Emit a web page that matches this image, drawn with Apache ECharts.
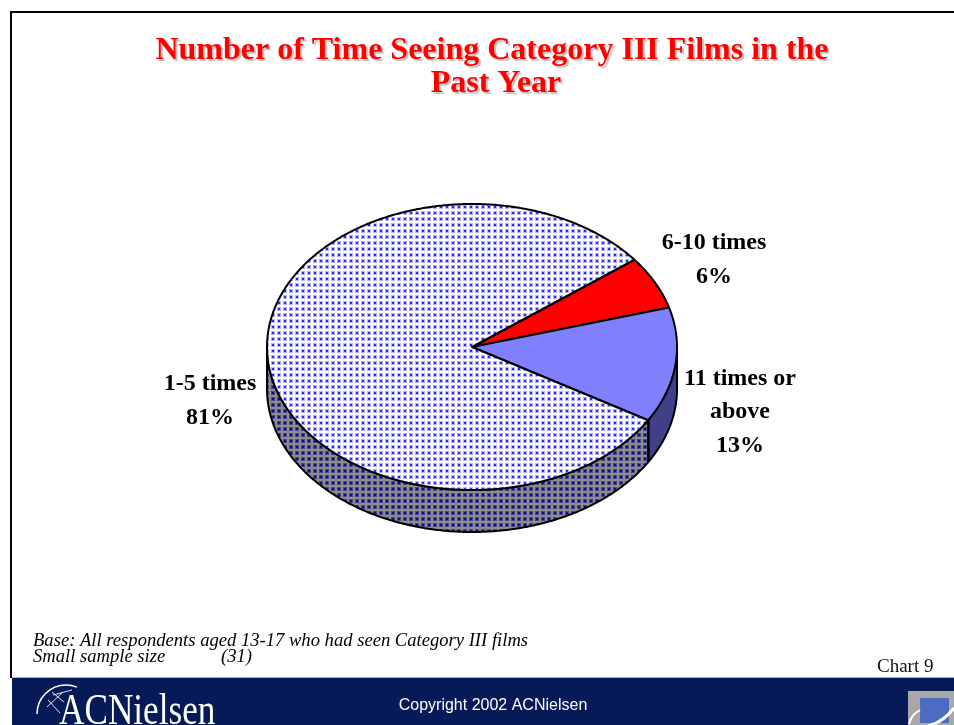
<!DOCTYPE html>
<html>
<head>
<meta charset="utf-8">
<title>Chart 9</title>
<script src="https://cdn.jsdelivr.net/npm/echarts@6/dist/echarts.min.js"></script>
<style>
  html, body { margin: 0; padding: 0; background: #fff; }
  #main { width: 954px; height: 725px; }
</style>
</head>
<body>
<div id="main"></div>
<script>
// data
var categories = ['6-10 times', '11 times or\nabove', '1-5 times'];
var shares = [6, 13, 81];
var titleText = 'Number of Time Seeing Category III Films in the \nPast Year';
var noteLines = ['Base: All respondents aged 13-17 who had seen Category III films', 'Small sample size            (31)'];

// tilted pie geometry
var cx = 472, cy = 347, rx = 205, ry = 143, depth = 42;
var startDeg = 37.6; // first slice starts here, runs clockwise
var labelPos = [[714, 260], [740, 412], [210, 401]];

var serif = '"Liberation Serif", "Times New Roman", serif';
var sans = '"Liberation Sans", Arial, sans-serif';

function dotPattern(bg, dot, halo) {
  var c = document.createElement('canvas');
  c.width = 6; c.height = 6;
  var g = c.getContext('2d');
  g.fillStyle = bg; g.fillRect(0, 0, 6, 6);
  g.fillStyle = halo; g.fillRect(1, 1, 4, 4);
  g.fillStyle = dot; g.fillRect(2, 2, 2, 2);
  return { image: c, repeat: 'repeat' };
}
var topDots = dotPattern('#ffffff', '#2a2af0', '#b4b4fc');
var sideDots = dotPattern('#8c8c8c', '#101080', '#46468c');

var topFill = ['#ff0000', '#8080ff', topDots];
var sideFill = ['#800000', '#40408a', sideDots];

var total = shares.reduce(function (a, b) { return a + b; }, 0);

function sliceRange(i) {
  var before = 0;
  for (var k = 0; k < i; k++) before += shares[k];
  var a0 = startDeg - before / total * 360;
  var a1 = a0 - shares[i] / total * 360;
  return [a0, a1];
}
function rimPoint(deg, dy) {
  var r = deg * Math.PI / 180;
  return [cx + rx * Math.cos(r), cy - ry * Math.sin(r) + (dy || 0)];
}

function renderSide(params, api) {
  var i = params.dataIndex;
  var range = sliceRange(i);
  // only the part of the rim facing the viewer (sin < 0) has a wall
  var pts = [], arc = [];
  for (var d = range[0]; d >= range[1] - 0.001; d -= 0.5) {
    if (Math.sin(d * Math.PI / 180) <= 0) arc.push(d);
  }
  if (!arc.length) return null;
  arc.forEach(function (d) { pts.push(rimPoint(d, 0)); });
  arc.slice().reverse().forEach(function (d) { pts.push(rimPoint(d, depth)); });
  return {
    type: 'polygon',
    shape: { points: pts },
    style: { fill: sideFill[i], stroke: '#000', lineWidth: 2, lineJoin: 'round' }
  };
}

function renderTop(params, api) {
  var i = params.dataIndex;
  var range = sliceRange(i);
  var pts = [[cx, cy]];
  for (var d = range[0]; d > range[1]; d -= 0.5) pts.push(rimPoint(d, 0));
  pts.push(rimPoint(range[1], 0));
  return {
    type: 'group',
    children: [{
      type: 'polygon',
      shape: { points: pts },
      style: { fill: topFill[i], stroke: '#000', lineWidth: 2, lineJoin: 'round' }
    }, {
      type: 'text',
      style: {
        text: categories[i] + '\n' + api.value(0) + '%',
        x: labelPos[i][0],
        y: labelPos[i][1],
        align: 'center',
        verticalAlign: 'middle',
        font: 'bold 24px ' + serif,
        lineHeight: 33.5,
        fill: '#000'
      }
    }]
  };
}

var chart = echarts.init(document.getElementById('main'), null, { renderer: 'canvas' });
chart.setOption({
  backgroundColor: '#ffffff',
  animation: false,
  title: {
    text: titleText,
    left: 491,
    top: 29,
    textAlign: 'center',
    textStyle: {
      color: '#ff0000',
      fontFamily: serif,
      fontWeight: 'bold',
      fontSize: 32,
      lineHeight: 33,
      textShadowColor: '#c0c0c0',
      textShadowOffsetX: 2,
      textShadowOffsetY: 2,
      textShadowBlur: 1
    }
  },
  series: [
    { type: 'custom', coordinateSystem: 'none', z: 2, silent: true, data: shares, renderItem: renderSide },
    { type: 'custom', coordinateSystem: 'none', z: 3, silent: true, data: shares, renderItem: renderTop }
  ],
  graphic: [
    // slide frame
    { type: 'rect', silent: true, shape: { x: 10, y: 11, width: 944, height: 2 }, style: { fill: '#000' } },
    { type: 'rect', silent: true, shape: { x: 10, y: 11, width: 2, height: 667 }, style: { fill: '#000' } },
    // footer band
    { type: 'rect', silent: true, shape: { x: 12, y: 678, width: 942, height: 47 }, style: { fill: '#061a58' } },
    { type: 'rect', silent: true, shape: { x: 12, y: 677, width: 942, height: 1 }, style: { fill: '#a9aec4' } },
    { type: 'text', silent: true, style: { text: noteLines[0], x: 33, y: 641, verticalAlign: 'middle', font: 'italic 18.6px ' + serif, fill: '#000' } },
    { type: 'text', silent: true, style: { text: noteLines[1], x: 33, y: 657, verticalAlign: 'middle', font: 'italic 18.6px ' + serif, fill: '#000' } },
    { type: 'text', silent: true, style: { text: 'Chart 9', x: 877, y: 667, verticalAlign: 'middle', font: '19px ' + serif, fill: '#111' } },
    { type: 'text', silent: true, style: { text: 'Copyright 2002 ACNielsen', x: 493, y: 706, align: 'center', verticalAlign: 'middle', font: '16px ' + sans, fill: '#fff' } },
    // ACNielsen logo
    { type: 'text', silent: true, x: 59, y: 712, scaleX: 0.8, style: { text: 'ACNielsen', x: 0, y: 0, verticalAlign: 'middle', font: '44px ' + serif, fill: '#fff' } },
    { type: 'arc', silent: true, shape: { cx: 66, cy: 714, r: 29, startAngle: 3.14, endAngle: 5.1 }, style: { stroke: '#fff', fill: null, lineWidth: 1.5 } },
    { type: 'line', silent: true, shape: { x1: 47, y1: 707, x2: 63, y2: 692 }, style: { stroke: '#dfe2ee', lineWidth: 1 } },
    { type: 'line', silent: true, shape: { x1: 53, y1: 695, x2: 72, y2: 690 }, style: { stroke: '#dfe2ee', lineWidth: 1 } },
    { type: 'line', silent: true, shape: { x1: 48, y1: 700, x2: 60, y2: 713 }, style: { stroke: '#dfe2ee', lineWidth: 1 } },
    { type: 'line', silent: true, shape: { x1: 52, y1: 692, x2: 64, y2: 702 }, style: { stroke: '#dfe2ee', lineWidth: 1 } },
    // corner mark
    { type: 'rect', silent: true, shape: { x: 908, y: 691, width: 46, height: 34 }, style: { fill: '#aaa8a6' } },
    { type: 'rect', silent: true, shape: { x: 920, y: 698, width: 29, height: 25 }, style: { fill: '#4b6cc0' } },
    { type: 'bezierCurve', silent: true, shape: { x1: 909, y1: 724, x2: 920, y2: 710, cpx1: 911, cpy1: 716, cpx2: 915, cpy2: 713 }, style: { stroke: '#fff', fill: null, lineWidth: 2 } },
    { type: 'bezierCurve', silent: true, shape: { x1: 928, y1: 726, x2: 954, y2: 708, cpx1: 940, cpy1: 723, cpx2: 948, cpy2: 716 }, style: { stroke: '#fff', fill: null, lineWidth: 3 } }
  ]
});
</script>
</body>
</html>
